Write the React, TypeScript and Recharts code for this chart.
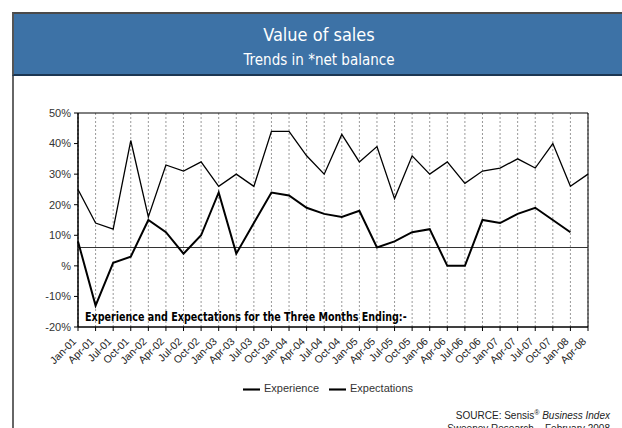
import {
  LineChart,
  Line,
  XAxis,
  YAxis,
  CartesianGrid,
  ReferenceLine,
  ReferenceArea,
  Legend,
} from "recharts";

const quarters = [
  "Jan-01", "Apr-01", "Jul-01", "Oct-01",
  "Jan-02", "Apr-02", "Jul-02", "Oct-02",
  "Jan-03", "Apr-03", "Jul-03", "Oct-03",
  "Jan-04", "Apr-04", "Jul-04", "Oct-04",
  "Jan-05", "Apr-05", "Jul-05", "Oct-05",
  "Jan-06", "Apr-06", "Jul-06", "Oct-06",
  "Jan-07", "Apr-07", "Jul-07", "Oct-07",
  "Jan-08", "Apr-08",
];

const experience = [
  8, -13, 1, 3, 15, 11, 4, 10, 24, 4, 14, 24, 23, 19, 17, 16, 18, 6, 8, 11,
  12, 0, 0, 15, 14, 17, 19, 15, 11, null,
];

const expectations = [
  25, 14, 12, 41, 16, 33, 31, 34, 26, 30, 26, 44, 44, 36, 30, 43, 34, 39, 22,
  36, 30, 34, 27, 31, 32, 35, 32, 40, 26, 30,
];

const yTicks = [-20, -10, 0, 10, 20, 30, 40, 50];
const baseline = 6;

const data = quarters.map((q, i) => ({
  quarter: q,
  Experience: experience[i],
  Expectations: expectations[i],
}));

const FONT = "'Liberation Sans', Arial, sans-serif";
const NARROW = "'DejaVu Sans Condensed', 'Liberation Sans', sans-serif";

function QuarterTick({ x, y, payload }: any) {
  const ax = x - 1;
  const ay = y + 11;
  return (
    <text
      x={ax}
      y={ay}
      transform={`rotate(-45 ${ax} ${ay})`}
      textAnchor="end"
      fontSize={10.5}
      fontFamily={FONT}
      fill="#222"
    >
      {payload.value}
    </text>
  );
}

export default function App() {
  return (
    <div
      style={{
        position: "absolute",
        left: 0,
        top: 0,
        width: 622,
        height: 428,
        overflow: "hidden",
        background: "#fff",
      }}
    >
      {/* header band */}
      <div
        style={{
          position: "absolute",
          left: 12,
          top: 12,
          width: 610,
          height: 60,
          background: "#3d72a6",
          borderTop: "2px solid #4a4a4a",
          borderLeft: "2px solid #555",
          borderBottom: "2px solid #1c3652",
          color: "#fff",
          fontFamily: NARROW,
          textAlign: "center",
        }}
      >
        <div style={{ position: "absolute", left: 0, right: 0, top: 10, fontSize: 18, lineHeight: "21px" }}>
          Value of sales
        </div>
        <div style={{ position: "absolute", left: 0, right: 0, top: 37, fontSize: 15, lineHeight: "18px" }}>
          Trends in *net balance
        </div>
      </div>
      {/* left frame */}
      <div style={{ position: "absolute", left: 12, top: 76, width: 2, height: 352, background: "#666" }} />

      <div style={{ position: "absolute", left: 0, top: 0 }}>
        <LineChart
          width={622}
          height={428}
          data={data}
          margin={{ top: 113, right: 34, left: 0, bottom: 30 }}
        >
          <CartesianGrid vertical horizontal={false} stroke="#999" strokeDasharray="2 2" />
          <XAxis
            dataKey="quarter"
            interval={0}
            height={51}
            tickSize={4}
            tickMargin={0}
            tick={<QuarterTick />}
            axisLine={{ stroke: "#000" }}
            tickLine={{ stroke: "#000" }}
          />
          <YAxis
            width={78}
            domain={[-20, 50]}
            ticks={yTicks}
            tickSize={4}
            tickMargin={3}
            tickFormatter={(v: number) => (v === 0 ? "%" : `${v}%`)}
            tick={{ fontSize: 11, fontFamily: FONT, fill: "#333" }}
            axisLine={{ stroke: "#000" }}
            tickLine={{ stroke: "#000" }}
          />
          <ReferenceArea
            x1={quarters[0]}
            x2={quarters[quarters.length - 1]}
            y1={-20}
            y2={50}
            fill="none"
            stroke="#000"
            strokeWidth={1}
          />
          <ReferenceLine y={baseline} stroke="#333" strokeWidth={1.2} />
          <Line
            dataKey="Experience"
            stroke="#000"
            strokeWidth={2}
            dot={false}
            isAnimationActive={false}
          />
          <Line
            dataKey="Expectations"
            stroke="#000"
            strokeWidth={1.3}
            dot={false}
            isAnimationActive={false}
          />
          <Legend
            verticalAlign="bottom"
            iconType="plainline"
            iconSize={17}
            itemSorter={() => 0}
            wrapperStyle={{
              fontSize: 11,
              fontFamily: FONT,
              height: 20,
              lineHeight: "20px",
              left: 78,
              width: 510,
            }}
            formatter={(value: string) => <span style={{ color: "#333" }}>{value}</span>}
          />
        </LineChart>
      </div>

      <div
        style={{
          position: "absolute",
          left: 85,
          top: 309,
          fontFamily: NARROW,
          fontWeight: "bold",
          fontSize: 12.5,
          color: "#000",
          whiteSpace: "nowrap",
          transform: "scaleX(0.85)",
          transformOrigin: "left top",
        }}
      >
        Experience and Expectations for the Three Months Ending:-
      </div>

      <div
        style={{
          position: "absolute",
          right: 12,
          top: 406,
          fontFamily: FONT,
          fontSize: 10,
          lineHeight: "13px",
          color: "#222",
          textAlign: "right",
          whiteSpace: "nowrap",
        }}
      >
        <div>
          SOURCE: Sensis<sup style={{ fontSize: 7 }}>®</sup> <i>Business Index</i>
        </div>
        <div>Sweeney Research – February 2008</div>
      </div>
    </div>
  );
}
